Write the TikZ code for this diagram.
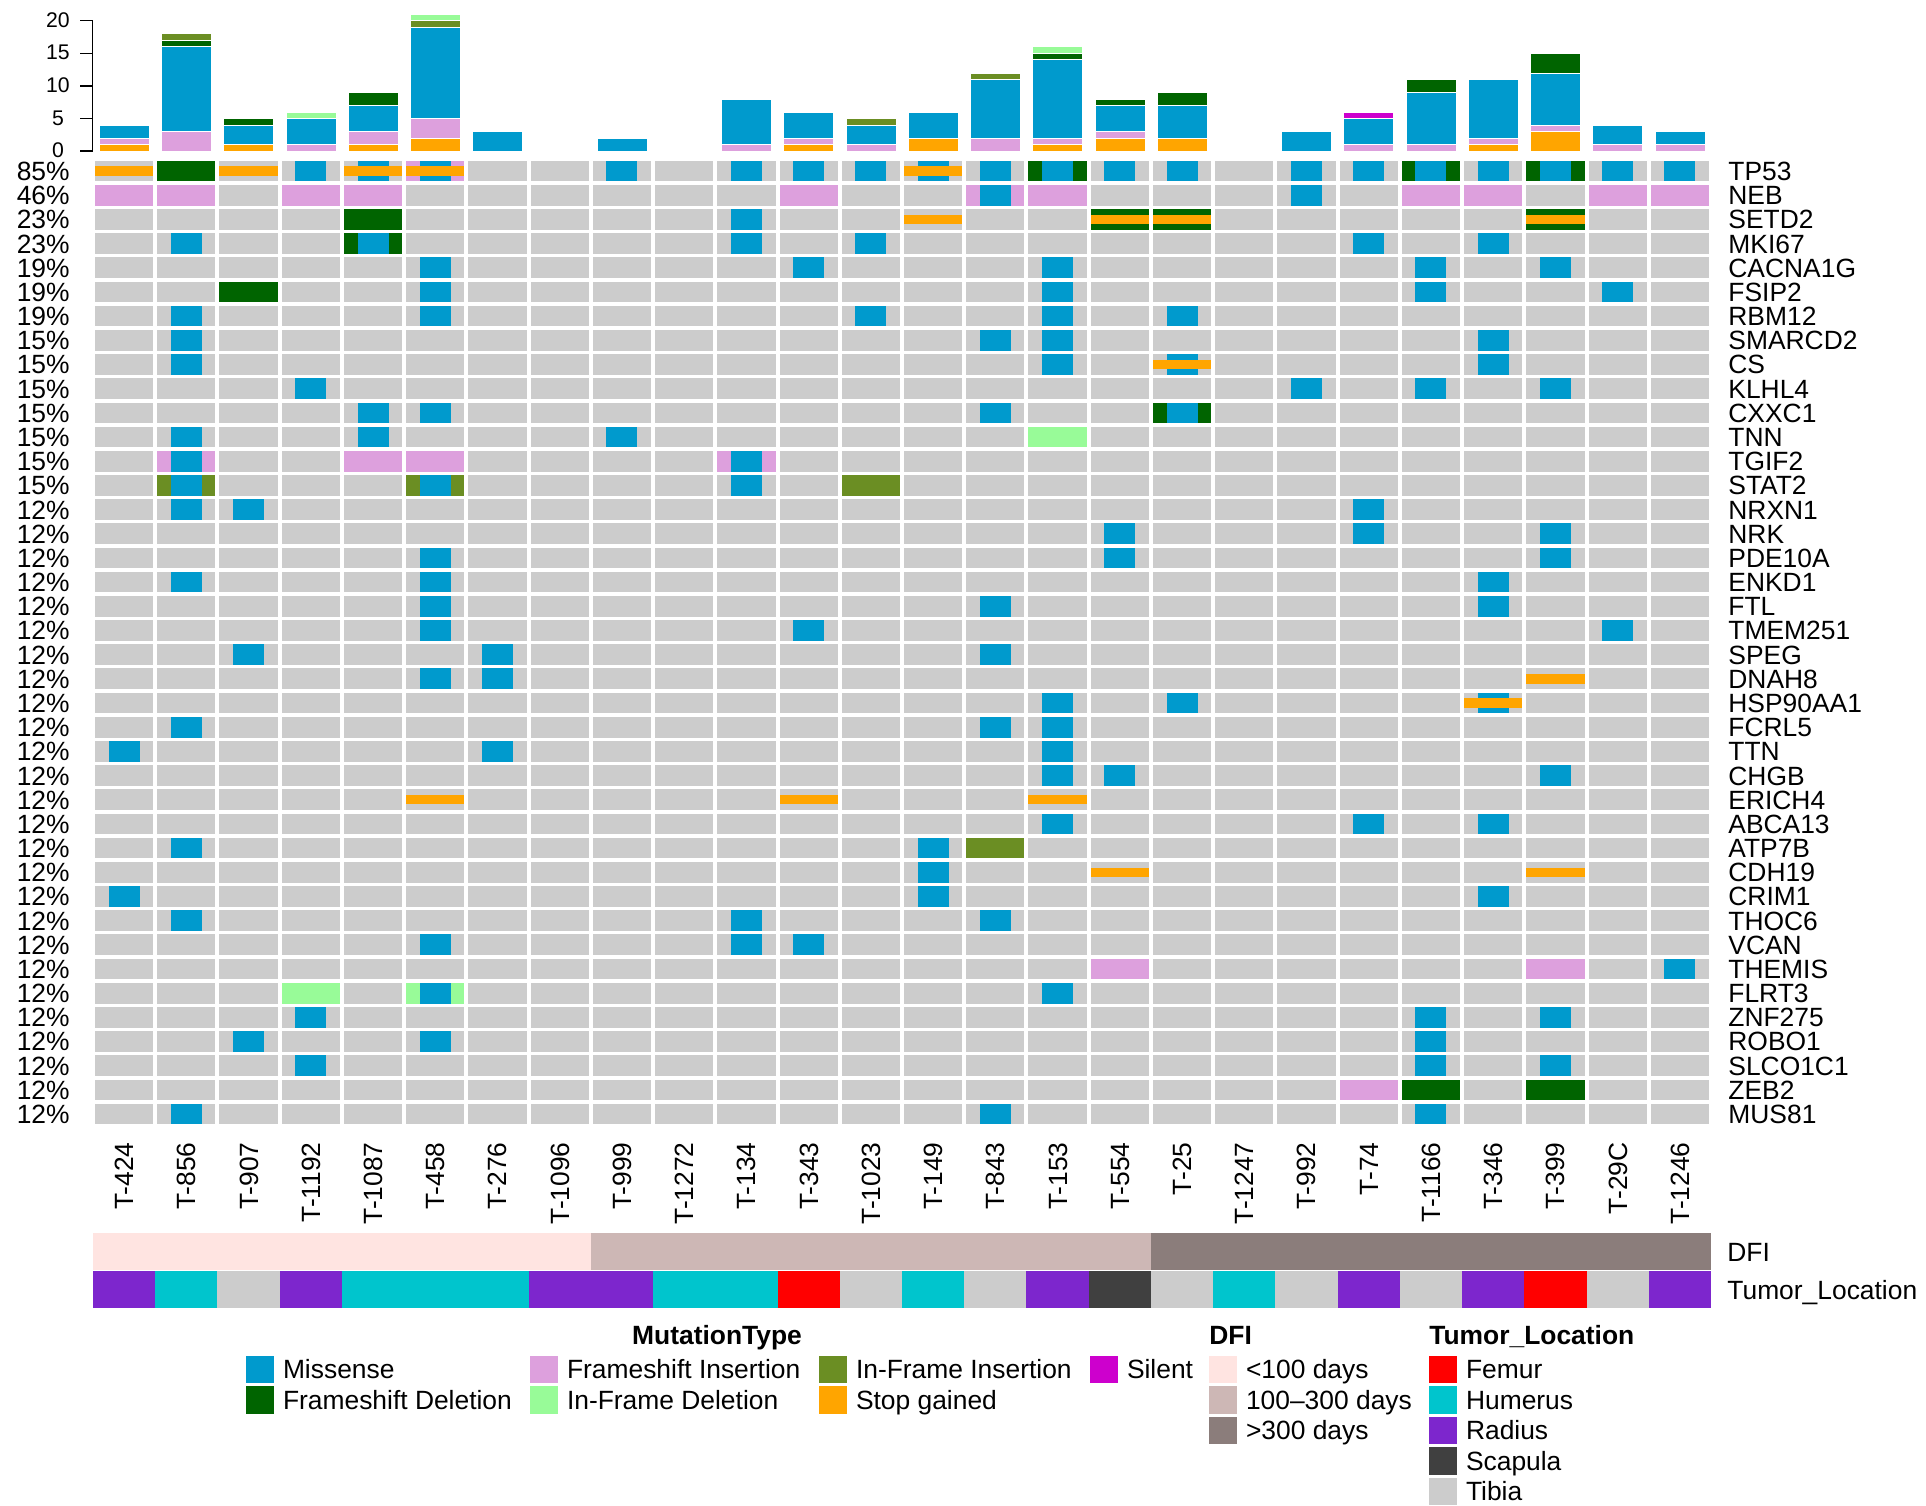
\documentclass[tikz,border=0pt]{standalone}
\usepackage{fontspec}
\setmainfont{Liberation Sans}
\definecolor{bgc}{HTML}{CCCCCC}
\definecolor{mis}{HTML}{009ACD}
\definecolor{fdel}{HTML}{006400}
\definecolor{fins}{HTML}{DDA0DD}
\definecolor{iins}{HTML}{6B8E23}
\definecolor{idel}{HTML}{98FB98}
\definecolor{stp}{HTML}{FFA500}
\definecolor{sil}{HTML}{CD00CD}
\definecolor{dfiA}{HTML}{FFE4E1}
\definecolor{dfiB}{HTML}{CDB7B5}
\definecolor{dfiC}{HTML}{8B7D7B}
\definecolor{tlFemur}{HTML}{FF0000}
\definecolor{tlHumerus}{HTML}{00C5CD}
\definecolor{tlRadius}{HTML}{7D26CD}
\definecolor{tlScapula}{HTML}{404040}
\definecolor{tlTibia}{HTML}{CCCCCC}
% cell helpers: column 1..26, row 0..39
\newcommand\ocFull[3]{\fill[#3] ({93+62.23*(#1-1)+2},{158.95+24.18*#2+1.75}) rectangle ({93+62.23*#1-2},{158.95+24.18*(#2+1)-1.75});}
\newcommand\ocMis[2]{\fill[mis] ({93+62.23*(#1-0.5)-15.5},{158.95+24.18*#2+1.75}) rectangle ({93+62.23*(#1-0.5)+15.5},{158.95+24.18*(#2+1)-1.75});}
\newcommand\ocStop[2]{\fill[stp] ({93+62.23*(#1-1)+2},{158.95+24.18*(#2+0.5)-4.7}) rectangle ({93+62.23*#1-2},{158.95+24.18*(#2+0.5)+4.7});}
\newcommand\ocBar[4]{\fill[#4,segment] ({93+62.23*(#1-0.5)-25},{151-6.515*#2}) rectangle ({93+62.23*(#1-0.5)+25},{151-6.515*#3});}
\begin{document}
\begin{tikzpicture}[x=0.5pt,y=-0.5pt,
  lab/.style={inner sep=0pt, font=\fontsize{13.2}{15}\selectfont, text height=9.45pt, text depth=0pt},
  ticklab/.style={inner sep=0pt, font=\fontsize{10.6}{12}\selectfont, text height=7.6pt, text depth=0pt},
  legtitle/.style={inner sep=0pt, font=\fontsize{13.2}{15}\selectfont\bfseries, text height=9.45pt, text depth=0pt},
  segment/.style={draw=white, line width=0.3pt}]
\useasboundingbox (0,0) rectangle (1926,1505);

% ---------- top barplot ----------
\draw[line width=0.75pt] (92.5,20.7) -- (92.5,151);
\foreach \v in {0,5,10,15,20}{
  \draw[line width=0.75pt] (80,{151-6.515*\v}) -- (92.5,{151-6.515*\v});
  \node[ticklab] (tick\v) at (58,{150-6.515*\v}) {\v};
}
\foreach \c/\a/\b/\col in {
 1/0/1/stp, 1/1/2/fins, 1/2/4/mis,
 2/0/3/fins, 2/3/16/mis, 2/16/17/fdel, 2/17/18/iins,
 3/0/1/stp, 3/1/4/mis, 3/4/5/fdel,
 4/0/1/fins, 4/1/5/mis, 4/5/6/idel,
 5/0/1/stp, 5/1/3/fins, 5/3/7/mis, 5/7/9/fdel,
 6/0/2/stp, 6/2/5/fins, 6/5/19/mis, 6/19/20/iins, 6/20/21/idel,
 7/0/3/mis,
 9/0/2/mis,
 11/0/1/fins, 11/1/8/mis,
 12/0/1/stp, 12/1/2/fins, 12/2/6/mis,
 13/0/1/fins, 13/1/4/mis, 13/4/5/iins,
 14/0/2/stp, 14/2/6/mis,
 15/0/2/fins, 15/2/11/mis, 15/11/12/iins,
 16/0/1/stp, 16/1/2/fins, 16/2/14/mis, 16/14/15/fdel, 16/15/16/idel,
 17/0/2/stp, 17/2/3/fins, 17/3/7/mis, 17/7/8/fdel,
 18/0/2/stp, 18/2/7/mis, 18/7/9/fdel,
 20/0/3/mis,
 21/0/1/fins, 21/1/5/mis, 21/5/6/sil,
 22/0/1/fins, 22/1/9/mis, 22/9/11/fdel,
 23/0/1/stp, 23/1/2/fins, 23/2/11/mis,
 24/0/3/stp, 24/3/4/fins, 24/4/12/mis, 24/12/15/fdel,
 25/0/1/fins, 25/1/4/mis,
 26/0/1/fins, 26/1/3/mis}
 {\ocBar{\c}{\a}{\b}{\col}}

% ---------- oncoprint grid ----------
\foreach \c in {1,...,26}{\foreach \r in {0,...,39}{\ocFull{\c}{\r}{bgc}}}
% full-cell alterations
\foreach \c/\r/\col in {
 2/0/fdel, 6/0/fins, 16/0/fdel, 22/0/fdel, 24/0/fdel,
 1/1/fins, 2/1/fins, 4/1/fins, 5/1/fins, 12/1/fins, 15/1/fins, 16/1/fins, 22/1/fins, 23/1/fins, 25/1/fins, 26/1/fins,
 5/2/fdel, 17/2/fdel, 18/2/fdel, 24/2/fdel,
 5/3/fdel, 3/5/fdel, 18/10/fdel, 16/11/idel,
 2/12/fins, 5/12/fins, 6/12/fins, 11/12/fins,
 2/13/iins, 6/13/iins, 13/13/iins,
 15/28/iins, 17/33/fins, 24/33/fins,
 4/34/idel, 6/34/idel,
 21/38/fins, 22/38/fdel, 24/38/fdel}
 {\ocFull{\c}{\r}{\col}}
% missense
\foreach \r/\cs in {
 0/{4,5,6,9,11,12,13,14,15,16,17,18,20,21,22,23,24,25,26},
 1/{15,20}, 2/{11}, 3/{2,5,11,13,21,23}, 4/{6,12,16,22,24},
 5/{6,16,22,25}, 6/{2,6,13,16,18}, 7/{2,15,16,23}, 8/{2,16,18,23},
 9/{4,20,22,24}, 10/{5,6,15,18}, 11/{2,5,9}, 12/{2,11}, 13/{2,6,11},
 14/{2,3,21}, 15/{17,21,24}, 16/{6,17,24}, 17/{2,6,23}, 18/{6,15,23},
 19/{6,12,25}, 20/{3,7,15}, 21/{6,7}, 22/{16,18,23}, 23/{2,15,16},
 24/{1,7,16}, 25/{16,17,24}, 27/{16,21,23}, 28/{2,14}, 29/{14},
 30/{1,14,23}, 31/{2,11,15}, 32/{6,11,12}, 33/{26}, 34/{6,16},
 35/{4,22,24}, 36/{3,6,22}, 37/{4,22,24}, 39/{2,15,22}}
 {\foreach \c in \cs {\ocMis{\c}{\r}}}
% stop gained
\foreach \c/\r in {1/0, 3/0, 5/0, 6/0, 14/0, 14/2, 17/2, 18/2, 24/2, 18/8,
 24/21, 23/22, 6/26, 12/26, 16/26, 17/29, 24/29}
 {\ocStop{\c}{\r}}

% row labels
\foreach \p [count=\k from 0] in {85,46,23,23,19,19,19,15,15,15,15,15,15,15,12,12,12,12,12,12,12,12,12,12,12,12,12,12,12,12,12,12,12,12,12,12,12,12,12,12}
 {\node[lab,anchor=east] (pct\k) at (70,{158.95+24.18*(\k+0.5)}) {\p\%};}
\foreach \g [count=\k from 0] in {TP53,NEB,SETD2,MKI67,CACNA1G,FSIP2,RBM12,SMARCD2,CS,KLHL4,CXXC1,TNN,TGIF2,STAT2,NRXN1,NRK,PDE10A,ENKD1,FTL,TMEM251,SPEG,DNAH8,HSP90AA1,FCRL5,TTN,CHGB,ERICH4,ABCA13,ATP7B,CDH19,CRIM1,THOC6,VCAN,THEMIS,FLRT3,ZNF275,ROBO1,SLCO1C1,ZEB2,MUS81}
 {\node[lab,anchor=west] (gene\k) at (1728,{158.95+24.18*(\k+0.5)}) {\g};}
% sample labels
\foreach \s [count=\k] in {T-424,T-856,T-907,T-1192,T-1087,T-458,T-276,T-1096,T-999,T-1272,T-134,T-343,T-1023,T-149,T-843,T-153,T-554,T-25,T-1247,T-992,T-74,T-1166,T-346,T-399,T-29C,T-1246}
 {\node[lab,rotate=90,anchor=east] (samp\k) at ({93+62.23*(\k-0.5)},1142) {\s};}

% ---------- annotations ----------
\foreach \c in {1,...,26}{
  \pgfmathsetmacro\dcol{\c<9 ? 1 : (\c<18 ? 2 : 3)}
  \ifnum\dcol=1 \def\dc{dfiA}\fi
  \ifnum\dcol=2 \def\dc{dfiB}\fi
  \ifnum\dcol=3 \def\dc{dfiC}\fi
  \fill[\dc] ({93+62.23*(\c-1)},1233.3) rectangle ({93+62.23*\c+0.4},1270);
}
\foreach \c/\col in {1/tlRadius,2/tlHumerus,3/tlTibia,4/tlRadius,5/tlHumerus,6/tlHumerus,7/tlHumerus,8/tlRadius,9/tlRadius,10/tlHumerus,11/tlHumerus,12/tlFemur,13/tlTibia,14/tlHumerus,15/tlTibia,16/tlRadius,17/tlScapula,18/tlTibia,19/tlHumerus,20/tlTibia,21/tlRadius,22/tlTibia,23/tlRadius,24/tlFemur,25/tlTibia,26/tlRadius}
 {\fill[\col] ({93+62.23*(\c-1)},1271) rectangle ({93+62.23*\c+0.4},1308.3);}
\node[lab,anchor=west] (dfilab) at (1727,1251.6) {DFI};
\node[lab,anchor=west] (tllab) at (1727,1289.6) {Tumor\_Location};

% ---------- legends ----------
\node[legtitle] (legMT) at (717,1335) {MutationType};
\node[legtitle,anchor=west] (legDFI) at (1209,1335) {DFI};
\node[legtitle,anchor=west] (legTL) at (1429,1335) {Tumor\_Location};
\foreach \x/\r/\col/\t [count=\k] in {
 246/1/mis/Missense, 246/2/fdel/Frameshift Deletion,
 530/1/fins/Frameshift Insertion, 530/2/idel/In-Frame Deletion,
 819/1/iins/In-Frame Insertion, 819/2/stp/Stop gained,
 1090/1/sil/Silent,
 1209/1/dfiA/{<100 days}, 1209/2/dfiB/{100–300 days}, 1209/3/dfiC/{>300 days},
 1429/1/tlFemur/Femur, 1429/2/tlHumerus/Humerus, 1429/3/tlRadius/Radius, 1429/4/tlScapula/Scapula, 1429/5/tlTibia/Tibia}
 {\fill[\col] (\x,{1355.7+30.5*(\r-1)}) rectangle ({\x+28},{1355.7+30.5*(\r-1)+27.6});
  \node[lab,anchor=west] (leg\k) at ({\x+36.6},{1355.7+30.5*(\r-1)+13.8}) {\t};}
\end{tikzpicture}
\end{document}
